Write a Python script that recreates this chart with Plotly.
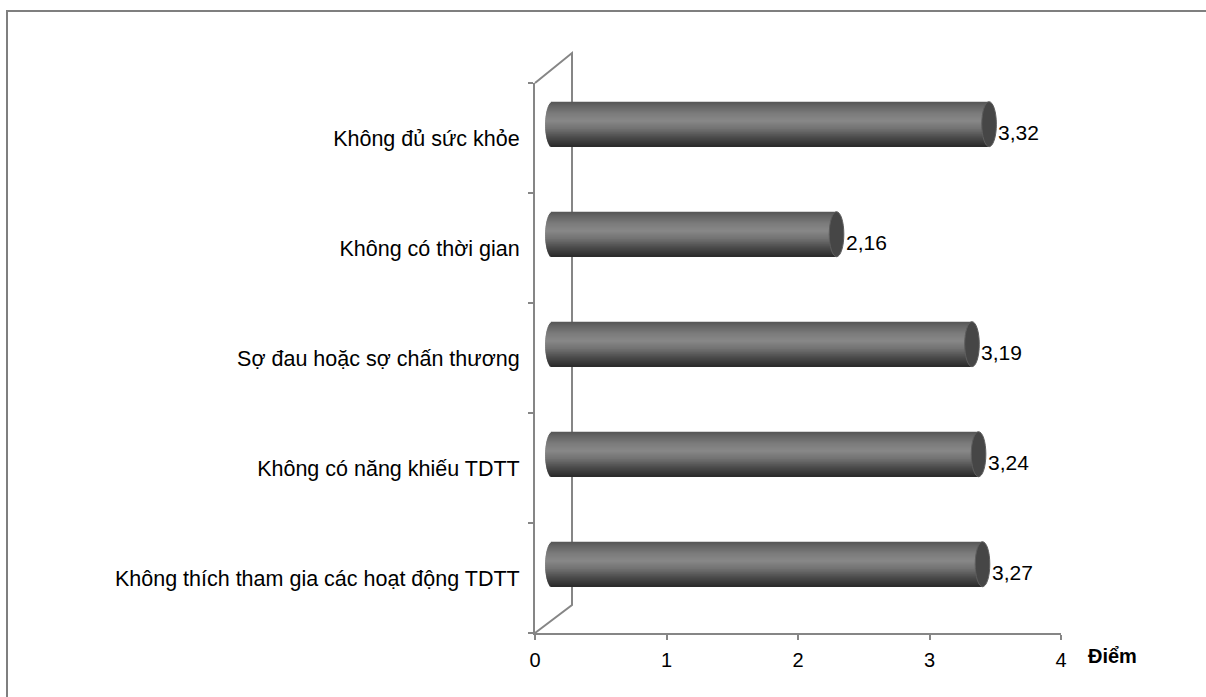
import numpy as np
import plotly.graph_objects as go

# ---------------- data ----------------
categories = ["Không đủ sức khỏe", "Không có thời gian", "Sợ đau hoặc sợ chấn thương",
              "Không có năng khiếu TDTT", "Không thích tham gia các hoạt động TDTT"]
values = [3.32, 2.16, 3.19, 3.24, 3.27]
value_labels = ["3,32", "2,16", "3,19", "3,24", "3,27"]
x_tick_vals = [0, 1, 2, 3, 4]
x_tick_text = ["0", "1", "2", "3", "4"]
x_title = "Điểm"

# ---------------- layout geometry ----------------
W, H = 1206, 697
L, R, T, B = 535, 145, 83, 64
PW, PH = W - L - R, H - T - B
px_x = PW / 4.0          # pixels per x unit
px_y = PH / 5.0          # pixels per category

def xp(px):  # pixel -> paper x
    return (px - L) / PW

def yp(py):  # pixel -> paper y
    return (H - B - py) / PH

depth_dx = 17.5 / px_x   # 3D depth shift of bars (x units)
depth_dy = 13.8 / px_y   # 3D depth shift of bars (category units)
bar_h = 45.0 / px_y
cap_rx = 7.3 / px_x
ov = 1.2 / px_y          # stripe overlap to hide seams

cats_bu = categories[::-1]
vals_bu = values[::-1]
labels_bu = value_labels[::-1]

# vertical shading profile of the cylinder (t: 0 top -> 1 bottom)
stops_t = [0.0, 0.08, 0.25, 0.42, 0.6, 0.8, 1.0]
stops_g = [0x55, 0x62, 0x7a, 0x88, 0x72, 0x4a, 0x2a]

fig = go.Figure()

# invisible trace so that the visible x axis is drawn
fig.add_trace(go.Scatter(x=[0], y=[cats_bu[0]], mode="markers", xaxis="x", yaxis="y",
                         marker=dict(opacity=0), hoverinfo="skip", showlegend=False))

N = 40
hs = bar_h / N
top = depth_dy + bar_h / 2
for j in range(N):
    t = (j + 0.5) / N
    s = 2 * t - 1
    g = int(round(np.interp(t, stops_t, stops_g)))
    col = f"rgb({g},{g},{g})"
    base = -cap_rx * np.sqrt(max(0.0, 1 - s * s))
    last = (j == N - 1)
    fig.add_trace(go.Bar(
        y=cats_bu, x=[v - base for v in vals_bu], base=base,
        orientation="h", xaxis="x2", yaxis="y",
        offset=top - (j + 1) * hs - (0 if last else ov), width=hs + (0 if last else ov),
        marker=dict(color=col, line=dict(width=0)),
        hoverinfo="skip", showlegend=False,
    ))

shapes = []
# end caps of cylinders
for i, v in enumerate(vals_bu):
    shapes.append(dict(type="circle", xref="x2", yref="y",
                       x0=v - cap_rx, x1=v + cap_rx,
                       y0=i + depth_dy - bar_h / 2, y1=i + depth_dy + bar_h / 2,
                       fillcolor="#464646", line=dict(color="#5e5e5e", width=1),
                       layer="above"))

axis_col = "#868686"
# side wall frame
shapes.append(dict(type="path", xref="paper", yref="paper", layer="below",
                   path=f"M {xp(535)},{yp(633)} L {xp(572)},{yp(605)} L {xp(572)},{yp(53)} L {xp(535)},{yp(83)}",
                   line=dict(color=axis_col, width=2)))
# outer chart border (top and left edges visible)
shapes.append(dict(type="line", xref="paper", yref="paper", layer="below",
                   x0=xp(6), x1=xp(1206), y0=yp(11), y1=yp(11),
                   line=dict(color="#7f7f7f", width=2)))
shapes.append(dict(type="line", xref="paper", yref="paper", layer="below",
                   x0=xp(7), x1=xp(7), y0=yp(10), y1=yp(697),
                   line=dict(color="#7f7f7f", width=2)))

annotations = []
for i, (v, lab) in enumerate(zip(vals_bu, labels_bu)):
    annotations.append(dict(xref="x2", yref="y", x=v, y=i, text=lab,
                            xanchor="left", yanchor="middle", xshift=7, yshift=6,
                            showarrow=False,
                            font=dict(family="Liberation Sans, Arial", size=21, color="#000")))
annotations.append(dict(xref="paper", yref="paper", x=xp(1086), y=yp(656), text=f"<b>{x_title}</b>",
                        xanchor="left", yanchor="middle", showarrow=False,
                        font=dict(family="Liberation Sans, Arial", size=20, color="#000")))

fig.update_layout(
    width=W, height=H, template="none",
    margin=dict(l=L, r=R, t=T, b=B, autoexpand=False),
    paper_bgcolor="white", plot_bgcolor="rgba(0,0,0,0)",
    barmode="overlay", showlegend=False,
    font=dict(family="Liberation Sans, Arial", color="#000"),
    xaxis=dict(range=[0, 4], tickvals=x_tick_vals, ticktext=x_tick_text,
               showgrid=False, zeroline=False, showline=True, linecolor=axis_col, linewidth=2,
               ticks="outside", ticklen=5, tickwidth=2, tickcolor=axis_col,
               tickfont=dict(size=20), ticklabelstandoff=3, automargin=False),
    xaxis2=dict(range=[-depth_dx, 4 - depth_dx], overlaying="x", visible=False),
    yaxis=dict(type="category", categoryorder="array", categoryarray=cats_bu,
               range=[-0.5, 4.5], tickson="boundaries",
               showgrid=False, zeroline=False, showline=True, linecolor=axis_col, linewidth=2,
               ticks="outside", ticklen=5, tickwidth=2, tickcolor=axis_col,
               tickfont=dict(size=21.5), ticklabelstandoff=9, automargin=False),
    shapes=shapes, annotations=annotations,
)

fig.write_html("out.html")
